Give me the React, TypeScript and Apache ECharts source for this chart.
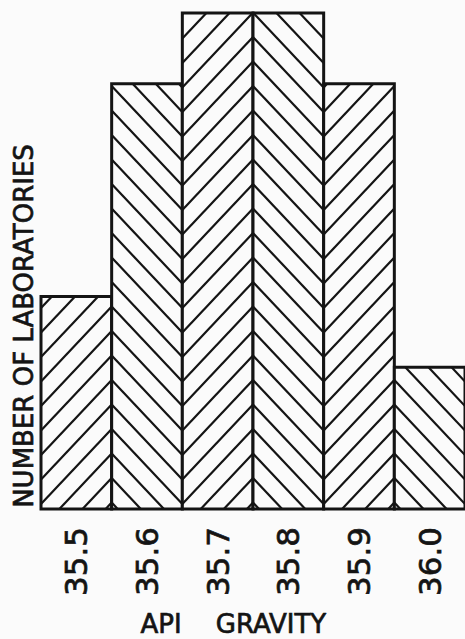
import React, { useEffect, useRef } from "react";
import * as echarts from "echarts";

const categories = ["35.5", "35.6", "35.7", "35.8", "35.9", "36.0"];
const counts = [3, 6, 7, 7, 6, 2];
const yAxisTitle = "NUMBER OF LABORATORIES";
const xAxisTitleParts = ["API", "GRAVITY"];

const INK = "#141414";
const BG = "#fbfbfb";
const FONT = "DejaVu Sans";

export default function App() {
  const ref = useRef<HTMLDivElement>(null);

  useEffect(() => {
    if (!ref.current) return;
    const chart = echarts.init(ref.current, undefined, { renderer: "svg" });

    const slope = 1.06;
    const spacing = 24.5;
    const phase0 = 5;

    const renderItem = (params: any, api: any) => {
      const idx = params.dataIndex;
      const cat = api.value(0);
      const v = api.value(1);
      const base = api.coord([cat, 0]);
      const top = api.coord([cat, v]);
      const w = api.size([1, 0])[0];
      const x0 = base[0] - w / 2;
      const x1 = base[0] + w / 2;
      const yb = base[1];
      const yt = top[1];
      const dir = idx % 2 === 0 ? 1 : -1; // 1 => "/", -1 => "\"
      const b = -slope * dir;
      const raw = dir === 1 ? phase0 : phase0 + w * slope;
      const pL = ((raw % spacing) + spacing) % spacing;
      const children: any[] = [];
      children.push({
        type: "rect",
        shape: { x: x0, y: yt, width: w, height: yb - yt },
        style: { fill: BG, stroke: null },
      });
      const h = yb - yt;
      const kMin = -Math.ceil((slope * w) / spacing) - 2;
      const kMax = Math.ceil((h + slope * w) / spacing) + 2;
      for (let k = kMin; k <= kMax; k++) {
        const a = yb - (pL + k * spacing);
        const xb = x0 + (yb - a) / b;
        const xt = x0 + (yt - a) / b;
        const lo = Math.max(Math.min(xb, xt), x0);
        const hi = Math.min(Math.max(xb, xt), x1);
        if (hi - lo < 0.5) continue;
        children.push({
          type: "line",
          shape: {
            x1: lo,
            y1: a + b * (lo - x0),
            x2: hi,
            y2: a + b * (hi - x0),
          },
          style: { stroke: INK, lineWidth: 2.2 },
        });
      }
      children.push({
        type: "rect",
        shape: { x: x0, y: yt, width: w, height: yb - yt },
        style: { fill: null, stroke: INK, lineWidth: 3 },
      });
      return { type: "group", children };
    };

    const textStyle = {
      fontFamily: FONT,
      fill: INK,
      stroke: INK,
      lineWidth: 0.7,
      align: "center",
      verticalAlign: "middle",
    };

    chart.setOption({
      animation: false,
      backgroundColor: BG,
      grid: { left: 41, right: -4, top: 13, bottom: 130 },
      xAxis: {
        type: "category",
        data: categories,
        boundaryGap: true,
        axisLine: { show: false },
        axisTick: { show: false },
        axisLabel: {
          interval: 0,
          rotate: 90,
          margin: 18,
          fontSize: 31,
          color: INK,
          fontFamily: FONT,
          textBorderColor: INK,
          textBorderWidth: 0.7,
        },
      },
      yAxis: {
        type: "value",
        min: 0,
        max: 7,
        show: false,
      },
      series: [
        {
          type: "custom",
          renderItem,
          clip: false,
          encode: { x: 0, y: 1 },
          data: categories.map((c, i) => [i, counts[i]]),
        },
      ],
      graphic: [
        {
          type: "text",
          x: 24,
          y: 326,
          rotation: Math.PI / 2,
          style: { ...textStyle, text: yAxisTitle, fontSize: 26 },
        },
        {
          type: "text",
          x: 161,
          y: 624,
          style: { ...textStyle, text: xAxisTitleParts[0], fontSize: 26 },
        },
        {
          type: "text",
          x: 271,
          y: 624,
          style: { ...textStyle, text: xAxisTitleParts[1], fontSize: 26 },
        },
      ],
    });

    return () => chart.dispose();
  }, []);

  return (
    <div
      ref={ref}
      style={{ position: "fixed", left: 0, top: 0, width: 465, height: 639 }}
    />
  );
}
